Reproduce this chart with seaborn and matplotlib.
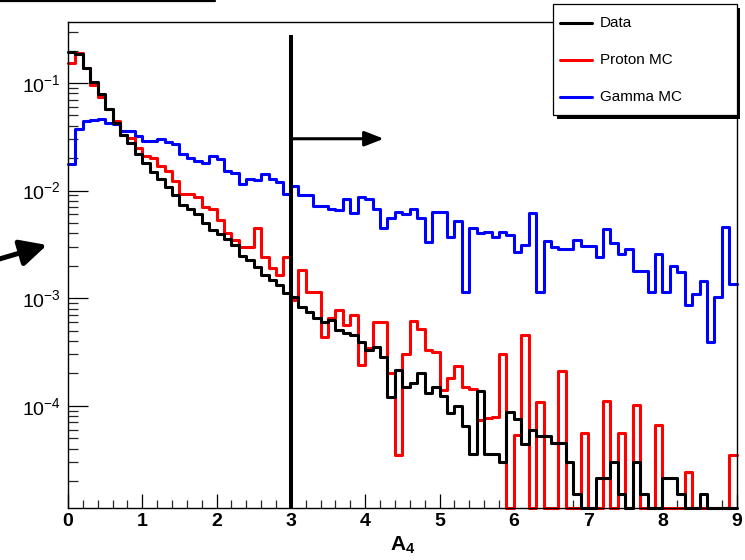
import numpy as np
import pandas as pd
import matplotlib
matplotlib.use("Agg")
import matplotlib.pyplot as plt
import seaborn as sns
from matplotlib.ticker import FixedLocator, MultipleLocator, NullFormatter, LogLocator
from matplotlib.patches import Rectangle
from matplotlib.lines import Line2D

# ---------------- data ----------------
bin_width = 0.1
x_start = 0.0

data_vals = [0.194, 0.186, 0.138, 0.102, 0.0792, 0.0575, 0.0426, 0.0330, 0.0278, 0.0220,
             0.0182, 0.0150, 0.0129, 0.0107, 0.00919, 0.00742, 0.00667, 0.0060, 0.00495, 0.00426,
             0.00392, 0.00352, 0.0031, 0.00245, 0.00225, 0.00194, 0.00163, 0.00147, 0.00132, 0.00111,
             0.00102, 0.000826, 0.000742, 0.000654, 0.0006, 0.000626, 0.000506, 0.000474, 0.000455, 0.000392,
             0.00033, 0.000352, 0.000284, 0.000121, 0.000216, 0.00015, 0.000163, 0.000202, 0.000132, 0.00015,
             0.000124, 8.6e-5, 1.0e-4, 6.5e-5, 3.6e-5, 0.000138, 3.6e-5, 3.6e-5, 3.0e-5, 8.8e-5,
             7.6e-5, 4.4e-5, 6.0e-5, 5.2e-5, 5.2e-5, 4.5e-5, 4.5e-5, 3.0e-5, 1.5e-5, 0,
             0, 2.15e-5, 2.15e-5, 3.0e-5, 1.5e-5, 0, 3.0e-5, 1.5e-5, 0, 0,
             2.15e-5, 2.15e-5, 1.5e-5, 0, 0, 1.5e-5, 0, 0, 0, 0]

proton_vals = [0.153, 0.19, 0.138, 0.0959, 0.0742, 0.0575, 0.0445, 0.033, 0.031, 0.025,
               0.0211, 0.0202, 0.017, 0.0153, 0.0124, 0.00939, 0.00939, 0.00862, 0.00696, 0.00681,
               0.00528, 0.004, 0.00344, 0.00297, 0.00297, 0.00445, 0.0024, 0.0019, 0.00163, 0.0024,
               0.000959, 0.00182, 0.00114, 0.00114, 0.000436, 0.000654, 0.000775, 0.000563, 0.000696, 0.00024,
               0.000344, 0.0006, 0.0006, 0.000202, 3.5e-5, 0.000303, 0.000613, 0.000517, 0.00033, 0.000316,
               0.000141, 0.000182, 0.000235, 0.00015, 0.000144, 7.4e-5, 7.7e-5, 7.9e-5, 0.000303, 0,
               5.4e-5, 0.000455, 0, 0.000109, 0, 0, 0.000211, 0, 0, 5.6e-5,
               0, 0, 0.000111, 0, 5.6e-5, 0, 1.02e-4, 0, 0, 6.7e-5,
               0, 0, 0, 2.4e-5, 0, 0, 0, 0, 0, 3.5e-5]

gamma_vals = [0.0178, 0.0375, 0.0445, 0.0455, 0.0464, 0.0426, 0.0417, 0.0359, 0.0359, 0.0323,
              0.029, 0.029, 0.0303, 0.0284, 0.0272, 0.022, 0.0202, 0.019, 0.0182, 0.0211,
              0.0198, 0.0153, 0.0147, 0.0114, 0.0129, 0.0126, 0.0144, 0.0129, 0.0119, 0.00939,
              0.0111, 0.009, 0.009, 0.00726, 0.00726, 0.00681, 0.00654, 0.00826, 0.00613, 0.00862,
              0.00826, 0.00667, 0.00445, 0.00551, 0.00626, 0.0060, 0.00681, 0.00551, 0.0033, 0.00626,
              0.00626, 0.00367, 0.00517, 0.00114, 0.00445, 0.004, 0.00409, 0.00367, 0.00409, 0.00383,
              0.00267, 0.0031, 0.00613, 0.00114, 0.00337, 0.00297, 0.00284, 0.00284, 0.0035, 0.00303,
              0.00303, 0.0024, 0.00436, 0.00323, 0.00255, 0.00284, 0.00178, 0.00178, 0.00114, 0.00255,
              0.00114, 0.00198, 0.00174, 0.000862, 0.00109, 0.00144, 0.000392, 0.00102, 0.00455, 0.00135]

series_labels = ["Data", "Proton MC", "Gamma MC"]
series_colors = ["#000000", "#ff0000", "#0000ff"]

cut_value = 3.0
cut_line_top = 0.28
cut_arrow_end = 4.25
cut_arrow_level = 0.0303

x_limits = (0.0, 9.0)
y_limits = (1.13e-5, 0.366)
xtick_values = [0, 1, 2, 3, 4, 5, 6, 7, 8, 9]
xtick_labels = ["0", "1", "2", "3", "4", "5", "6", "7", "8", "9"]
ytick_values = [1e-4, 1e-3, 1e-2, 1e-1]
ytick_labels = [r"$\mathdefault{10^{-4}}$", r"$\mathdefault{10^{-3}}$",
                r"$\mathdefault{10^{-2}}$", r"$\mathdefault{10^{-1}}$"]
x_label = r"$\mathbf{A}_{\mathbf{4}}$"

# ---------------- style ----------------
sns.set_style("white")
plt.rcParams["font.family"] = ["Liberation Sans", "DejaVu Sans"]
plt.rcParams["mathtext.fontset"] = "custom"
plt.rcParams["mathtext.rm"] = "Liberation Sans"
plt.rcParams["mathtext.bf"] = "Liberation Sans:bold"
plt.rcParams["mathtext.default"] = "regular"
plt.rcParams["axes.unicode_minus"] = False

W, H = 745, 560
fig = plt.figure(figsize=(W / 100, H / 100), dpi=100)
fig.patch.set_facecolor("white")


def fx(px):
    return px / W


def fy(py):
    return 1 - py / H


ax_l, ax_r, ax_t, ax_b = 68, 736.7, 22.3, 507.7
ax = fig.add_axes([fx(ax_l), fy(ax_b), (ax_r - ax_l) / W, (ax_b - ax_t) / H])
ax.set_yscale("log")

# long-form table of step histograms
frames = []
edges = x_start + bin_width * np.arange(len(data_vals) + 1)
for lab, vals in zip(series_labels, [data_vals, proton_vals, gamma_vals]):
    v = np.asarray(vals, dtype=float)
    yv = np.maximum(np.append(v, v[-1]), y_limits[0])
    frames.append(pd.DataFrame({"x": edges, "y": yv, "series": lab}))
df = pd.concat(frames, ignore_index=True)

palette = dict(zip(series_labels, series_colors))
sns.lineplot(data=df, x="x", y="y", hue="series",
             hue_order=["Gamma MC", "Proton MC", "Data"], palette=palette,
             drawstyle="steps-post", estimator=None, legend=False,
             linewidth=2.2, ax=ax, clip_on=False)

ax.set_xlim(*x_limits)
ax.set_ylim(*y_limits)

# cut line and arrow
ax.vlines(cut_value, y_limits[0], cut_line_top, color="black", linewidth=2.9, zorder=5)
ax.annotate("", xy=(cut_arrow_end, cut_arrow_level), xytext=(cut_value, cut_arrow_level),
            arrowprops=dict(arrowstyle="-|>,head_length=1.15,head_width=0.45",
                            mutation_scale=10, lw=2.2, color="black",
                            shrinkA=0, shrinkB=0), zorder=5)

# axes styling
for s in ax.spines.values():
    s.set_color("black")
    s.set_linewidth(1.0)
ax.xaxis.set_major_locator(FixedLocator(xtick_values))
ax.set_xticklabels(xtick_labels, fontweight="bold", fontsize=14)
ax.xaxis.set_minor_locator(MultipleLocator(0.2))
ax.yaxis.set_major_locator(FixedLocator(ytick_values))
ax.set_yticklabels(ytick_labels, fontsize=14)
ax.yaxis.set_minor_locator(LogLocator(base=10, subs=np.arange(2, 10)))
ax.yaxis.set_minor_formatter(NullFormatter())
ax.tick_params(axis="y", which="major", direction="in", length=14.4, width=0.9,
               left=True, right=False, pad=5, colors="black")
ax.tick_params(axis="y", which="minor", direction="in", length=7.2, width=0.9,
               left=True, right=False)
ax.tick_params(axis="x", which="major", direction="in", length=10, width=0.9,
               bottom=True, top=False, pad=4, colors="black")
ax.tick_params(axis="x", which="minor", direction="in", length=5.5, width=0.9,
               bottom=True, top=False)
ax.set_xlabel(x_label, fontsize=15, labelpad=3, color="black")
ax.set_ylabel("")

# left pointer arrow (outside the frame)
ax.annotate("", xy=(47, H - 245), xytext=(-4, H - 260),
            xycoords="figure pixels", textcoords="figure pixels",
            arrowprops=dict(arrowstyle="-|>,head_length=1.0,head_width=0.5",
                            mutation_scale=16, lw=3.6, color="black",
                            shrinkA=0, shrinkB=0), annotation_clip=False)

# cropped title box edge at the top-left
fig.add_artist(Line2D([0, fx(215)], [fy(1), fy(1)], color="black", lw=1.6))

# legend box with solid shadow
fig.add_artist(Rectangle((fx(557), fy(119)), (740 - 557) / W, (119 - 8) / H,
                         transform=fig.transFigure, facecolor="black",
                         edgecolor="none", zorder=20))
fig.add_artist(Rectangle((fx(553), fy(115)), (737 - 553) / W, (115 - 4) / H,
                         transform=fig.transFigure, facecolor="white",
                         edgecolor="black", lw=0.9, zorder=21))
rows = [23, 60, 97]
for lab, col, ry in zip(series_labels, series_colors, rows):
    fig.add_artist(Line2D([fx(560), fx(592)], [fy(ry), fy(ry)], color=col, lw=2.2, zorder=22))
    fig.text(fx(600), fy(ry), lab, fontsize=11, color="black", va="center", ha="left",
             zorder=22)

fig.savefig("out.png", dpi=100, facecolor="white")
